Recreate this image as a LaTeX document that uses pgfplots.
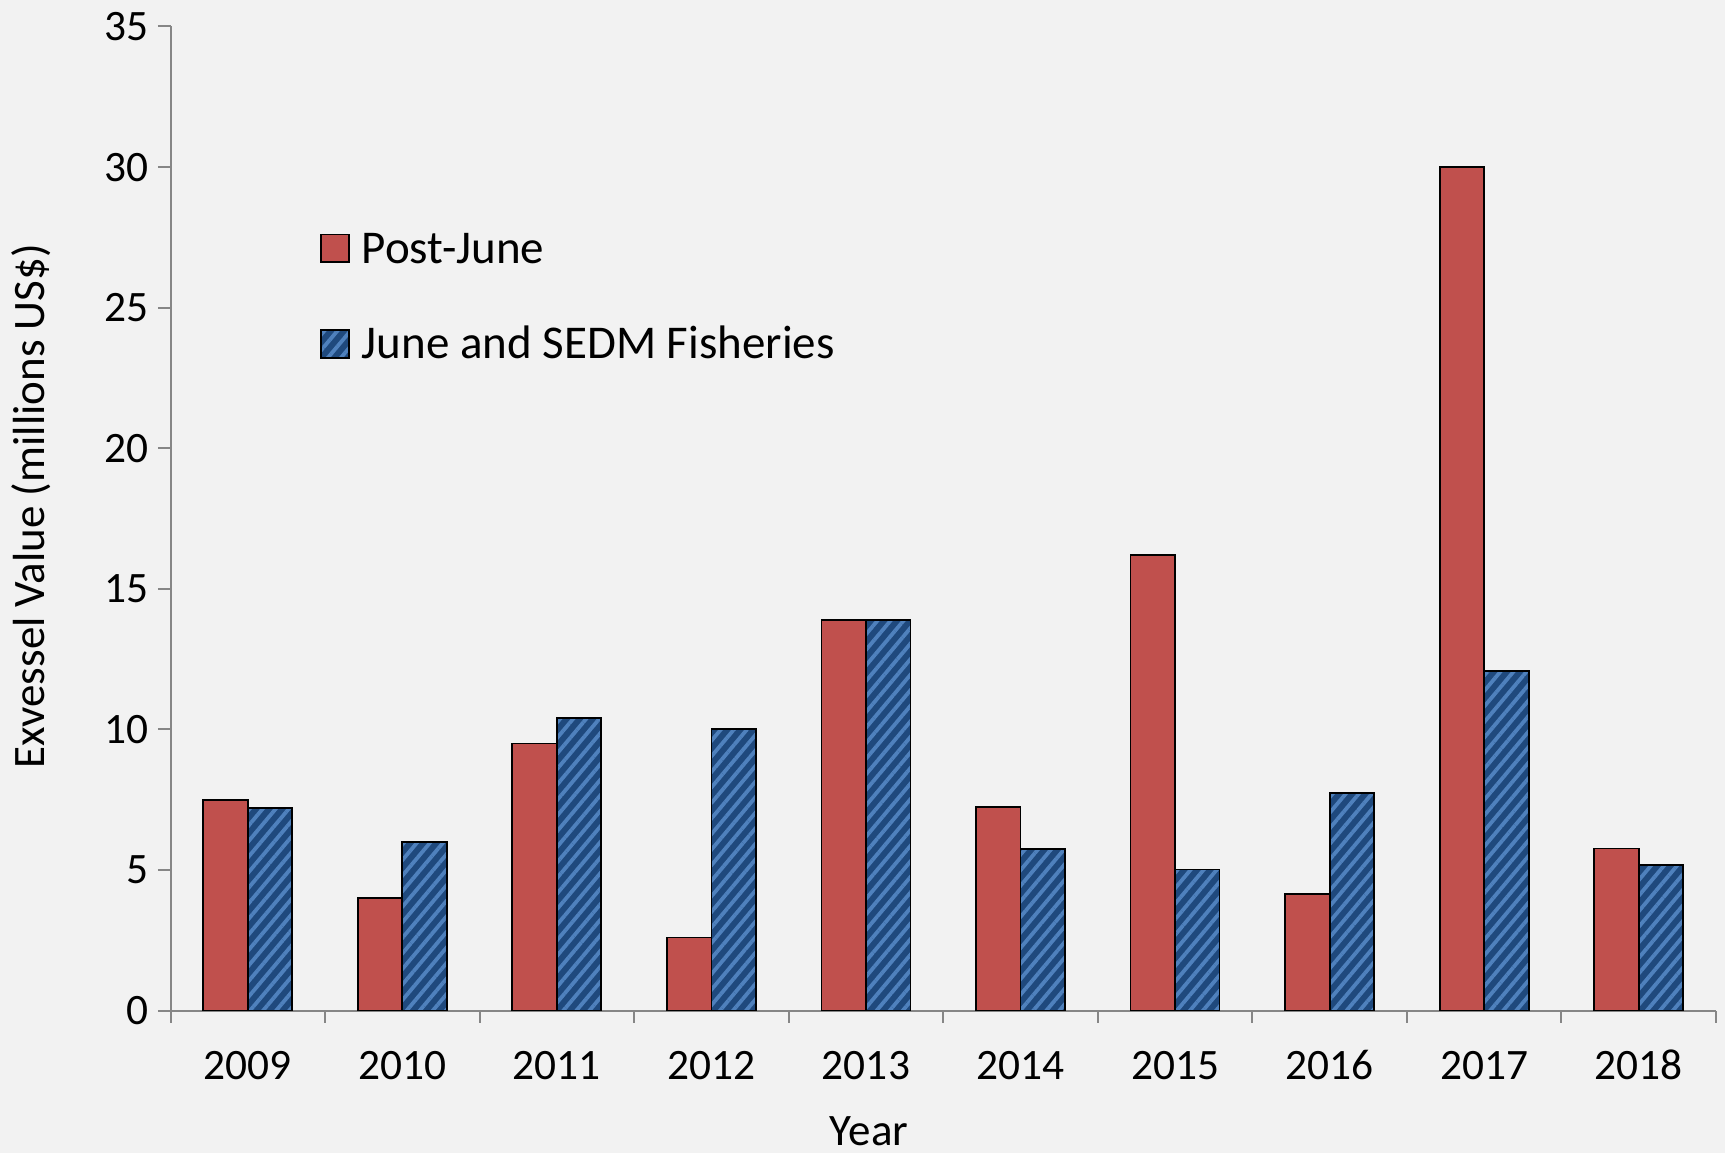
\documentclass[border=0pt]{standalone}
\usepackage{pgfplots}
\pgfplotsset{compat=1.18}
\usepackage{fontspec}
\setmainfont{Carlito}
\usetikzlibrary{patterns.meta}
\definecolor{bg}{HTML}{F2F2F2}
\definecolor{redbar}{HTML}{C0504D}
\definecolor{darkblue}{HTML}{1F497D}
\definecolor{stripe}{HTML}{4F81BD}
\definecolor{axgray}{HTML}{868686}
\begin{document}
\begin{tikzpicture}
\fill[bg] (0,0) rectangle (862.5bp,576.5bp);
\useasboundingbox (0,0) rectangle (862.5bp,576.5bp);
\begin{axis}[
  at={(85.25bp,71.15bp)}, anchor=south west,
  scale only axis, width=772.75bp, height=492.1bp,
  ybar=0pt, bar width=22.25bp,
  xmin=-0.5, xmax=9.5, ymin=0, ymax=35,
  xtick={0,...,9},
  xticklabels={2009,2010,2011,2012,2013,2014,2015,2016,2017,2018},
  minor xtick={-0.5,0.5,...,9.5},
  ytick={0,5,...,35},
  axis x line*=bottom, axis y line*=left,
  axis line style={axgray, line width=1bp},
  tick align=outside,
  major tick length=6.25bp, minor tick length=6bp,
  tick style={axgray, line width=1bp},
  major x tick style={draw=none},
  /pgf/number format/assume math mode=true,
  tick label style={font=\fontsize{21.7bp}{26bp}\selectfont, text=black},
  xticklabel style={anchor=base, yshift=-28bp},
  yticklabel style={anchor=east, xshift=-1bp},
  xlabel={Year}, ylabel={Exvessel Value (millions US\$)},
  label style={font=\fontsize{22.5bp}{27bp}\selectfont},
  xlabel style={at={(axis description cs:0.452,-0.1365)}, anchor=base},
  ylabel style={at={(axis description cs:-0.0812,0.5124)}, anchor=base, rotate=0},
  legend cell align=left,
  legend style={at={(axis description cs:0.0967,0.7902)}, anchor=north west,
    draw=none, fill=none, inner sep=0pt,
    font=\fontsize{23.5bp}{28bp}\selectfont,
    nodes={inner sep=0pt, text height=15bp, text depth=0pt},
    row sep=32.75bp, column sep=6bp},
  legend image code/.code={\draw[#1] (0bp,-6.9bp) rectangle (13.8bp,6.9bp);},
]
\addplot[fill=redbar, draw=black, line width=0.9bp] coordinates {
(0,7.5) (1,4.0) (2,9.5) (3,2.6) (4,13.9) (5,7.25) (6,16.2) (7,4.15) (8,30.0) (9,5.77)};
\addlegendentry{Post-June}
\addplot[preaction={fill=darkblue}, pattern={Lines[angle=50,distance=5bp,line width=1.9bp]}, pattern color=stripe, draw=black, line width=0.9bp] coordinates {
(0,7.2) (1,6.0) (2,10.4) (3,10.02) (4,13.88) (5,5.76) (6,5.02) (7,7.75) (8,12.07) (9,5.18)};
\addlegendentry{June and SEDM Fisheries}
\end{axis}
\end{tikzpicture}
\end{document}
